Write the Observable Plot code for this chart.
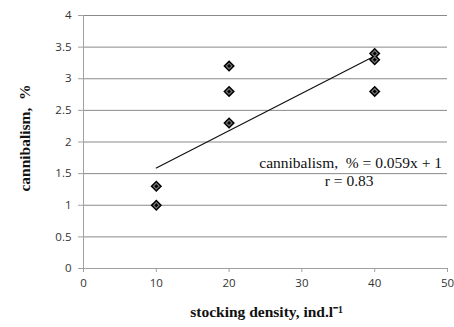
<!DOCTYPE html>
<html>
<head>
<meta charset="utf-8">
<script src="https://cdn.jsdelivr.net/npm/d3@7"></script>
<script src="https://cdn.jsdelivr.net/npm/@observablehq/plot@0.6"></script>
<style>
  html, body { margin: 0; padding: 0; background: #fff; }
</style>
</head>
<body>
<div id="chart"></div>
<script>
// Observed data
const density = [10, 10, 20, 20, 20, 40, 40, 40];
const cannibalism = [1.3, 1.0, 3.2, 2.8, 2.3, 3.4, 3.3, 2.8];

// Trend line endpoints (from equation shown: 0.059x + 1)
const trendX = [10, 40];
const trendY = [1.59, 3.36];

// Tick labels
const xTicks = [0, 10, 20, 30, 40, 50];
const yTicks = [0, 0.5, 1, 1.5, 2, 2.5, 3, 3.5, 4];

// Annotation text
const equationText = "cannibalism,\u00a0 % = 0.059x + 1";
const rText = "r = 0.83";
const xLabel = "stocking density, ind.l\u207B\u00B9";
const yLabel = "cannibalism,\u00a0 %";

const points = density.map((d, i) => ({x: d, y: cannibalism[i]}));
const trend = trendX.map((d, i) => ({x: d, y: trendY[i]}));

const serif = "'Liberation Serif', 'Times New Roman', serif";
const sans = "'Open Sans', sans-serif";

const chart = Plot.plot({
  width: 454,
  height: 327,
  marginLeft: 83,
  marginRight: 7,
  marginTop: 15,
  marginBottom: 59,
  style: {fontFamily: sans, fontSize: "12px", background: "#fff"},
  x: {domain: [0, 50], label: null},
  y: {domain: [0, 4], label: null},
  marks: [
    Plot.ruleY(yTicks.filter(d => d > 0), {stroke: "#8a8a8a", strokeWidth: 1}),
    Plot.ruleY([0], {stroke: "#a0a0a0", strokeWidth: 1}),
    Plot.ruleX([0], {stroke: "#a0a0a0", strokeWidth: 1}),
    Plot.axisX({ticks: xTicks, tickSize: 4, tickPadding: 6, stroke: "#a0a0a0", fill: "#333", fontSize: 11.5, fontFamily: sans, tickFormat: d => String(d)}),
    Plot.axisY({ticks: yTicks, tickSize: 5, tickPadding: 7, stroke: "#a0a0a0", fill: "#333", fontSize: 11.5, fontFamily: sans, tickFormat: d => String(d)}),
    Plot.line(trend, {x: "x", y: "y", stroke: "#111", strokeWidth: 1.2}),
    Plot.dot(points, {x: "x", y: "y", symbol: "diamond2", r: 5.2, fill: "#000", stroke: "none"}),
    Plot.dot(points, {x: "x", y: "y", symbol: "diamond2", r: 3.3, fill: "#777", stroke: "none"}),
    Plot.dot(points, {x: "x", y: "y", symbol: "diamond2", r: 1.8, fill: "#000", stroke: "none"}),
    Plot.text([equationText], {x: 36.7, y: 1.67, text: d => d, fontFamily: serif, fontSize: 15.5, fill: "#111", textAnchor: "middle"}),
    Plot.text([rText], {x: 36.5, y: 1.38, text: d => d, fontFamily: serif, fontSize: 15.5, fill: "#111", textAnchor: "middle"}),
    Plot.text([xLabel], {frameAnchor: "bottom", text: d => d, dy: 44, dx: 1, fontFamily: serif, fontSize: 15.5, fontWeight: "bold", fill: "#111", lineAnchor: "middle", textAnchor: "middle"}),
    Plot.text([yLabel], {frameAnchor: "left", text: d => d, dx: -58, dy: -4, rotate: -90, fontFamily: serif, fontSize: 15.5, fontWeight: "bold", fill: "#111", lineAnchor: "middle", textAnchor: "middle"})
  ]
});

document.getElementById("chart").appendChild(chart);
</script>
</body>
</html>
